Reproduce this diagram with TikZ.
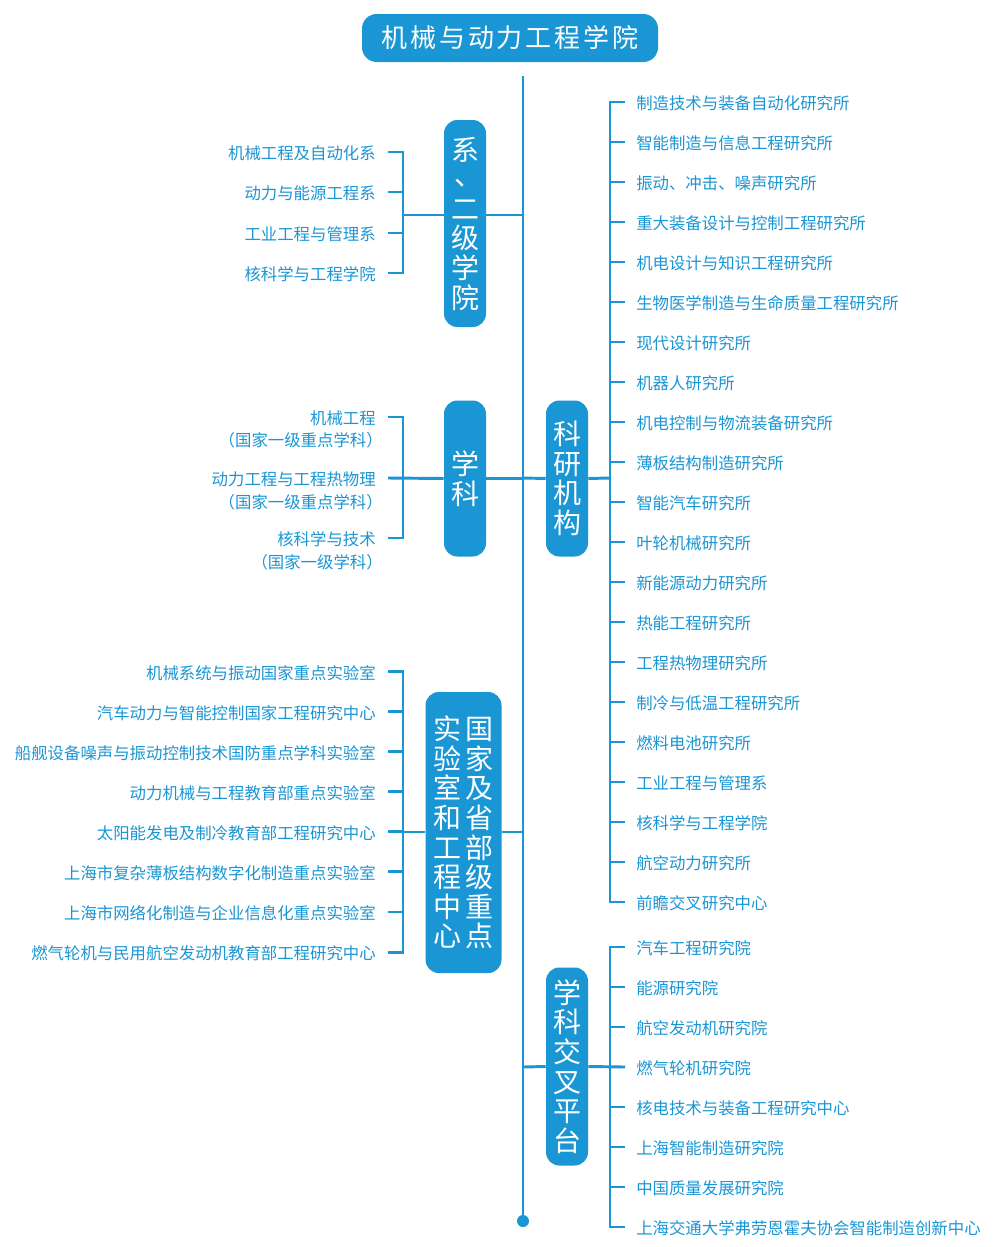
\documentclass[tikz,border=0pt]{standalone}
\usepackage{fontspec}
\newfontfamily\cjk{Noto Sans CJK SC}
\newfontfamily\cjktitle[LetterSpace=11]{Noto Sans CJK SC}
\definecolor{mblue}{RGB}{26,150,212}
\begin{document}
\begin{tikzpicture}[x=0.75pt,y=-0.75pt,
  conn/.style={draw=mblue, line width=2.2pt},
  vbox/.style={fill=mblue, rounded corners=10pt, text=white, minimum width=31.5pt,
    inner sep=0pt, align=center, font=\cjk\fontsize{21}{22.2}\selectfont},
  litem/.style={anchor=east, inner xsep=9pt, inner ysep=0pt, text height=12pt, text depth=0.5pt,
    text=mblue, font=\cjk\fontsize{12.3}{14}\selectfont},
  ritem/.style={anchor=west, inner xsep=8.25pt, inner ysep=0pt, text height=12pt, text depth=0.5pt,
    text=mblue, font=\cjk\fontsize{12.3}{14}\selectfont},
  sitem/.style={anchor=east, inner xsep=6pt, inner ysep=0pt, text height=12pt, text depth=0.5pt,
    text=mblue, font=\cjk\fontsize{12.3}{14}\selectfont},
  line join=miter]
\useasboundingbox (0,0) rectangle (1005,1247);
\fill[white] (0,0) rectangle (1005,1247);

% title
\node[fill=mblue, rounded corners=11pt, minimum width=222pt, minimum height=36pt, inner sep=0pt,
  text=white, font=\cjktitle\fontsize{19.5}{20}\selectfont] (title) at (510,38) {机械与动力工程学院};

% trunk
\coordinate (T) at (523,76);
\node[circle, fill=mblue, minimum size=9pt, inner sep=0pt] (dot) at (523,1221) {};
\draw[conn] (T) -- (dot.center);

% boxes
\node[vbox, minimum height=155.25pt] (b1) at (465,223.5) {系\\\raisebox{3pt}[0pt][0pt]{\hspace{5pt}、}\\二\\级\\学\\院};
\node[vbox, minimum height=117pt] (b2) at (465,478.5) {学\\科};
\node[vbox, minimum height=117pt] (b3) at (567,478.5) {科\\研\\机\\构};
\node[vbox, minimum width=57pt, minimum height=210.75pt] (b4) at (463.5,832.5)
  {实\hspace{3pt}国\\验\hspace{3pt}家\\室\hspace{3pt}及\\和\hspace{3pt}省\\工\hspace{3pt}部\\程\hspace{3pt}级\\中\hspace{3pt}重\\心\hspace{3pt}点};
\node[vbox, minimum height=148.5pt] (b5) at (567,1066.5) {学\\科\\交\\叉\\平\\台};

% group 1
\node[litem] (a1) at (388,152) {机械工程及自动化系};
\node[litem] (a2) at (388,192) {动力与能源工程系};
\node[litem] (a3) at (388,233) {工业工程与管理系};
\node[litem] (a4) at (388,273) {核科学与工程学院};
\coordinate (k1) at (403,215);
\draw[conn] (a1.east) -- (a1.east -| k1) -- (a4.east -| k1) -- (a4.east);
\draw[conn] (a2.east) -- (a2.east -| k1);
\draw[conn] (a3.east) -- (a3.east -| k1);
\draw[conn] (k1) -- (k1 -| b1.west);
\draw[conn] (k1 -| b1.east) -- (k1 -| T);

% group 2
\node[litem] (s1) at (388,417) {机械工程};
\node[sitem] (s1b) at (391,439) {（国家一级重点学科）};
\node[litem] (s2) at (388,478) {动力工程与工程热物理};
\node[sitem] (s2b) at (391,501) {（国家一级重点学科）};
\node[litem] (s3) at (388,538) {核科学与技术};
\node[sitem] (s3b) at (391,561) {（国家一级学科）};
\coordinate (k2) at (403,478);
\draw[conn] (s1.east) -- (s1.east -| k2) -- (s3.east -| k2) -- (s3.east);
\draw[conn] (s2.east) -- (b2.west);
\draw[conn] (b2.east) -- (b2.east -| T);

% group 4
\foreach \t [count=\i] in {机械系统与振动国家重点实验室,汽车动力与智能控制国家工程研究中心,船舰设备噪声与振动控制技术国防重点学科实验室,动力机械与工程教育部重点实验室,太阳能发电及制冷教育部工程研究中心,上海市复杂薄板结构数字化制造重点实验室,上海市网络化制造与企业信息化重点实验室,燃气轮机与民用航空发动机教育部工程研究中心}
  \node[litem] (c\i) at (388,{631.3+40.1*\i}) {\t};
\coordinate (k4) at (403,832);
\draw[conn] (c1.east) -- (c1.east -| k4) -- (c8.east -| k4) -- (c8.east);
\foreach \i in {2,...,7} \draw[conn] (c\i.east) -- (c\i.east -| k4);
\draw[conn] (k4) -- (k4 -| b4.west);
\draw[conn] (k4 -| b4.east) -- (k4 -| T);

% group 3
\foreach \t [count=\i] in {制造技术与装备自动化研究所,智能制造与信息工程研究所,振动、冲击、噪声研究所,重大装备设计与控制工程研究所,机电设计与知识工程研究所,生物医学制造与生命质量工程研究所,现代设计研究所,机器人研究所,机电控制与物流装备研究所,薄板结构制造研究所,智能汽车研究所,叶轮机械研究所,新能源动力研究所,热能工程研究所,工程热物理研究所,制冷与低温工程研究所,燃料电池研究所,工业工程与管理系,核科学与工程学院,航空动力研究所,前瞻交叉研究中心}
  \node[ritem] (r\i) at (625,{62+40*\i}) {\t};
\coordinate (k3) at (610,478);
\draw[conn] (r1.west) -- (r1.west -| k3) -- (r21.west -| k3) -- (r21.west);
\foreach \i in {2,...,20} \draw[conn] (r\i.west -| k3) -- (r\i.west);
\draw[conn] (k3 -| T) -- (b3.west);
\draw[conn] (b3.east) -- (k3);

% group 5
\foreach \t [count=\i] in {汽车工程研究院,能源研究院,航空发动机研究院,燃气轮机研究院,核电技术与装备工程研究中心,上海智能制造研究院,中国质量发展研究院,上海交通大学弗劳恩霍夫协会智能制造创新中心}
  \node[ritem] (p\i) at (625,{907+40*\i}) {\t};
\coordinate (k5) at (610,1067);
\draw[conn] (p1.west) -- (p1.west -| k5) -- (p8.west -| k5) -- (p8.west);
\foreach \i in {2,3,5,6,7} \draw[conn] (p\i.west -| k5) -- (p\i.west);
\draw[conn] (k5 -| T) -- (b5.west);
\draw[conn] (b5.east) -- (p4.west);
\end{tikzpicture}
\end{document}
